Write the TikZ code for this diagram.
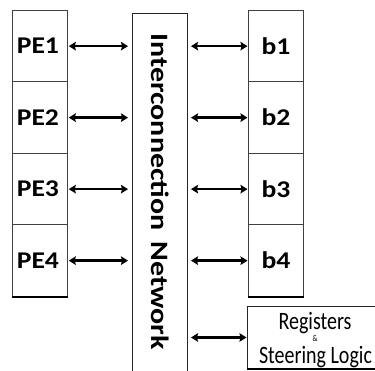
\documentclass[tikz,border=0pt]{standalone}
\usepackage{fontspec}
\setmainfont{Carlito}
\usetikzlibrary{arrows.meta}
\tikzset{
  cell/.style={draw=black!75, line width=0.8pt, minimum width=55pt, minimum height=71.5pt, inner sep=0pt, anchor=north west},
  celltext/.style={font=\bfseries\fontsize{24}{24}\selectfont, xscale=1.15, inner sep=0pt},
  link/.style={line width=2.6pt, {Stealth[length=7pt,width=8.5pt,inset=1pt]}-{Stealth[length=7pt,width=8.5pt,inset=1pt]}},
  netbox/.style={draw=black!85, line width=1pt, minimum width=55pt, minimum height=370pt, inner sep=0pt, anchor=north west},
  regbox/.style={draw=black!85, line width=1pt, minimum width=135pt, minimum height=62pt, inner sep=0pt, anchor=north west},
  regtext/.style={font=\fontsize{25}{25}\selectfont, xscale=0.8, inner sep=0pt, anchor=base},
  base/.style={line width=1.8pt}
}
\begin{document}
\begin{tikzpicture}[x=1pt,y=-1pt]
\useasboundingbox (0,0) rectangle (375,371);
\clip (0,0) rectangle (375,371);
\foreach \i/\y in {1/10,2/81.5,3/153,4/224.5}{
  \node[cell] (pe\i) at (12,\y) {};
  \node[celltext] (pet\i) at ([xshift=-2pt]pe\i.center) {PE\i};
  \node[cell] (b\i) at (248,\y) {};
  \node[celltext] (bt\i) at (b\i.center) {b\i};
}
\draw[base] (pe4.south west) -- (pe4.south east);
\draw[base] (b4.south west) -- (b4.south east);
\node[netbox] (net) at (132,13) {};
\node[rotate=-90, font=\bfseries\fontsize{25}{25}\selectfont, xscale=1.2, inner sep=0pt] (nettext) at (160,191.5) {Interconnection\hspace{9pt}Network};
\node[regbox] (reg) at (247,306) {};
\draw[base] (reg.south west) -- (reg.south east);
\node[regtext] (rt1) at (315,330) {Registers};
\node[regtext, font=\fontsize{9}{9}\selectfont, xscale=1] (rt2) at (315,342) {\&};
\node[regtext] (rt3) at (315.5,363.5) {Steering Logic};
\foreach \i in {1,2,3,4}{
  \draw[link, shorten >=4pt, shorten <=1pt] (pe\i.east) -- (net.west |- pe\i.east);
  \draw[link, shorten <=3pt, shorten >=0.5pt] (net.east |- b\i.west) -- (b\i.west);
}
\draw[link, shorten <=3pt, shorten >=0.5pt] (net.east |- reg.west) -- (reg.west);
\end{tikzpicture}
\end{document}
